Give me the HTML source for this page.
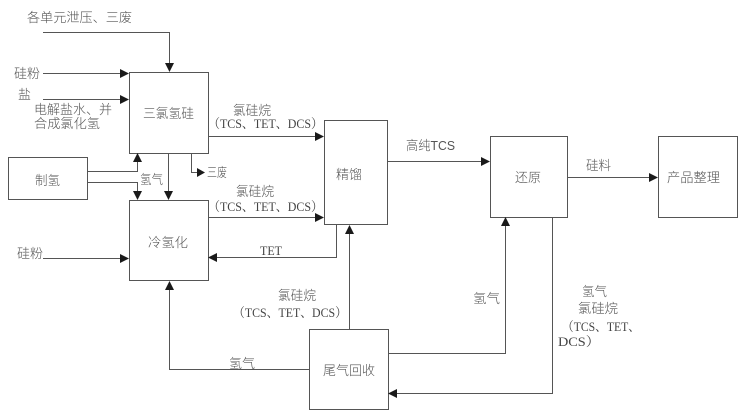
<!DOCTYPE html>
<html><head><meta charset="utf-8"><style>
html,body{margin:0;padding:0;background:#fff;width:753px;height:415px;overflow:hidden}
svg{display:block}
.c{font-family:"Liberation Sans","Noto Sans CJK SC",sans-serif;font-size:13px;fill:#555;font-weight:300}
.s{font-family:"Liberation Serif","Noto Serif CJK SC",serif;font-size:13px;fill:#444}
</style></head><body>
<svg width="753" height="415" viewBox="0 0 753 415" xmlns="http://www.w3.org/2000/svg">
<g fill="none" stroke="#555" stroke-width="1">
<rect x="129.5" y="72.5" width="79" height="81"/>
<rect x="129.5" y="200.5" width="79" height="80"/>
<rect x="8.5" y="157.5" width="79" height="42"/>
<rect x="324.5" y="120.5" width="63" height="104"/>
<rect x="490.5" y="136.5" width="77" height="81"/>
<rect x="658.5" y="136.5" width="79" height="81"/>
<rect x="309.5" y="329.5" width="79" height="80"/>
<polyline points="43,32.5 169.5,32.5 169.5,64"/>
<line x1="43" y1="73.5" x2="121" y2="73.5"/>
<line x1="43" y1="99.5" x2="121" y2="99.5"/>
<line x1="208" y1="136.5" x2="316" y2="136.5"/>
<polyline points="191.5,153 191.5,172.5 197,172.5"/>
<polyline points="87,171.5 137.5,171.5 137.5,162"/>
<polyline points="87,182.5 137.5,182.5 137.5,192"/>
<line x1="168.5" y1="153" x2="168.5" y2="192"/>
<line x1="208" y1="217.5" x2="316" y2="217.5"/>
<polyline points="336.5,224 336.5,257.5 217,257.5"/>
<line x1="43" y1="258.5" x2="121" y2="258.5"/>
<line x1="349.5" y1="329" x2="349.5" y2="234"/>
<polyline points="309,369.5 169.5,369.5 169.5,290"/>
<line x1="387" y1="161.5" x2="482" y2="161.5"/>
<line x1="567" y1="177.5" x2="650" y2="177.5"/>
<polyline points="388,353.5 505.5,353.5 505.5,226"/>
<polyline points="552.5,217 552.5,393.5 397,393.5"/>
</g>
<g fill="#1a1a1a">
<polygon points="165,63 174,63 169.5,72"/>
<polygon points="120,69 120,78 129,73.5"/>
<polygon points="120,95 120,104 129,99.5"/>
<polygon points="315,132 315,141 324,136.5"/>
<polygon points="197,168 197,177 205,172.5"/>
<polygon points="133,162 142,162 137.5,153"/>
<polygon points="133,191 142,191 137.5,200"/>
<polygon points="164,191 173,191 168.5,200"/>
<polygon points="315,213 315,222 324,217.5"/>
<polygon points="217,253 217,262 208,257.5"/>
<polygon points="120,254 120,263 129,258.5"/>
<polygon points="345,234 354,234 349.5,225"/>
<polygon points="165,290 174,290 169.5,281"/>
<polygon points="481,157 481,166 490,161.5"/>
<polygon points="649,173 649,182 658,177.5"/>
<polygon points="501,226 510,226 505.5,217"/>
<polygon points="397,389 397,398 388,393.5"/>
</g>
<g>
<text class="c" x="27" y="22" textLength="105" lengthAdjust="spacingAndGlyphs">各单元泄压、三废</text>
<text class="c" x="14" y="78" textLength="26" lengthAdjust="spacingAndGlyphs">硅粉</text>
<text class="c" x="18" y="99" textLength="13" lengthAdjust="spacingAndGlyphs">盐</text>
<text class="c" x="34" y="114" textLength="78" lengthAdjust="spacingAndGlyphs">电解盐水、并</text>
<text class="c" x="34" y="128" textLength="66" lengthAdjust="spacingAndGlyphs">合成氯化氢</text>
<text class="c" x="143" y="118" textLength="51" lengthAdjust="spacingAndGlyphs">三氯氢硅</text>
<text class="c" x="233" y="115" textLength="38" lengthAdjust="spacingAndGlyphs">氯硅烷</text>
<text class="s" x="208" y="128" textLength="115" lengthAdjust="spacingAndGlyphs">（TCS、TET、DCS）</text>
<text class="c" x="207" y="177" textLength="20" lengthAdjust="spacingAndGlyphs">三废</text>
<text class="c" x="35" y="185" textLength="25" lengthAdjust="spacingAndGlyphs">制氢</text>
<text class="c" x="140" y="184" textLength="23" lengthAdjust="spacingAndGlyphs">氢气</text>
<text class="c" x="236" y="196" textLength="38" lengthAdjust="spacingAndGlyphs">氯硅烷</text>
<text class="s" x="208" y="211" textLength="115" lengthAdjust="spacingAndGlyphs">（TCS、TET、DCS）</text>
<text class="c" x="336" y="179" textLength="26" lengthAdjust="spacingAndGlyphs">精馏</text>
<text class="c" x="148" y="247" textLength="40" lengthAdjust="spacingAndGlyphs">冷氢化</text>
<text class="c" x="17" y="258" textLength="26" lengthAdjust="spacingAndGlyphs">硅粉</text>
<text class="s" x="260" y="255" textLength="22" lengthAdjust="spacingAndGlyphs">TET</text>
<text class="c" x="406" y="150" textLength="49" lengthAdjust="spacingAndGlyphs">高纯TCS</text>
<text class="c" x="515" y="182" textLength="26" lengthAdjust="spacingAndGlyphs">还原</text>
<text class="c" x="586" y="170" textLength="25" lengthAdjust="spacingAndGlyphs">硅料</text>
<text class="c" x="667" y="182" textLength="53" lengthAdjust="spacingAndGlyphs">产品整理</text>
<text class="c" x="278" y="300" textLength="38" lengthAdjust="spacingAndGlyphs">氯硅烷</text>
<text class="s" x="233" y="317" textLength="114" lengthAdjust="spacingAndGlyphs">（TCS、TET、DCS）</text>
<text class="c" x="229" y="368" textLength="26" lengthAdjust="spacingAndGlyphs">氢气</text>
<text class="c" x="323" y="375" textLength="52" lengthAdjust="spacingAndGlyphs">尾气回收</text>
<text class="c" x="473" y="303" textLength="27" lengthAdjust="spacingAndGlyphs">氢气</text>
<text class="c" x="582" y="296" textLength="25" lengthAdjust="spacingAndGlyphs">氢气</text>
<text class="c" x="578" y="313" textLength="40" lengthAdjust="spacingAndGlyphs">氯硅烷</text>
<text class="s" x="562" y="331" textLength="78" lengthAdjust="spacingAndGlyphs">（TCS、TET、</text>
<text class="s" x="558" y="346" textLength="42" lengthAdjust="spacingAndGlyphs">DCS）</text>
</g>
</svg>
</body></html>
